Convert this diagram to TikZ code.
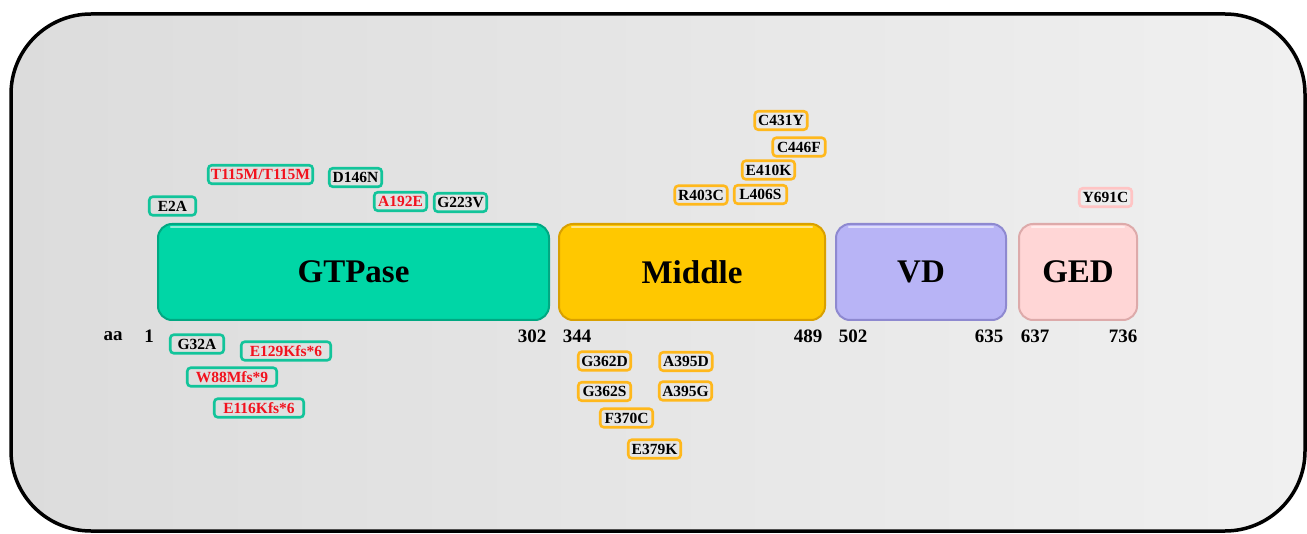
\documentclass[tikz,border=0pt]{standalone}
\usepackage{fontspec}
\setmainfont{Liberation Serif}
\usetikzlibrary{calc}
\definecolor{bgA}{HTML}{DCDCDC}
\definecolor{bgB}{HTML}{F0F0F0}
\definecolor{gtfill}{HTML}{00D6A6}
\definecolor{gtdark}{HTML}{00A882}
\definecolor{gtborder}{HTML}{12C49A}
\definecolor{mifill}{HTML}{FFC800}
\definecolor{midark}{HTML}{D9A000}
\definecolor{miborder}{HTML}{FFB81C}
\definecolor{vdfill}{HTML}{B8B4F6}
\definecolor{vddark}{HTML}{8E89D0}
\definecolor{gefill}{HTML}{FFD6D6}
\definecolor{gedark}{HTML}{DDAAAA}
\definecolor{geborder}{HTML}{FFC4C4}
\definecolor{mutred}{HTML}{F2121E}
\begin{document}
\begin{tikzpicture}[x=1pt,y=-1pt,
  lab/.style={draw, line width=2.6, rounded corners=3.5, inner xsep=0, inner ysep=0,
    minimum height=18.5, minimum width=52.5, font=\fontsize{15.5}{16}\selectfont\bfseries},
  gt/.style={lab, draw=gtborder},
  mi/.style={lab, draw=miborder},
  ge/.style={lab, draw=geborder},
  mut/.style={text=mutred},
  dom/.style={rounded corners=14, minimum height=96, line width=2, inner sep=0,
    font=\fontsize{33}{33}\selectfont\bfseries},
  num/.style={inner sep=0, font=\fontsize{19}{19}\selectfont\bfseries},
  hl/.style={draw=white, opacity=0.55, line width=2.2, line cap=round}
]
\useasboundingbox (0,0) rectangle (1307,534);
% frame
\shade[rounded corners=80, left color=bgA, right color=bgB] (11,14) rectangle (1305,531);
\draw[line width=3.5, rounded corners=80] (11,14) rectangle (1305,531);

% domains
\node[dom, fill=gtfill, draw=gtdark, minimum width=391] (gtp) at (353.5,272) {GTPase};
\node[dom, fill=mifill, draw=midark, minimum width=266] (mid) at (692,272) {Middle};
\node[dom, fill=vdfill, draw=vddark, minimum width=170] (vd) at (921,272) {VD};
\node[dom, fill=gefill, draw=gedark, minimum width=118] (ged) at (1078,272) {GED};
\foreach \d in {gtp,mid,vd,ged}{
  \draw[hl] ($(\d.north west)+(14,4)$) -- ($(\d.north east)+(-14,4)$);
}

% numbers
\node[num] (aa) at (113,336) {aa};
\node[num] (n1) at (149,336) {1};
\node[num] (n302) at (532,336) {302};
\node[num] (n344) at (577,336) {344};
\node[num] (n489) at (808,336) {489};
\node[num] (n502) at (853,336) {502};
\node[num] (n635) at (989,336) {635};
\node[num] (n637) at (1035,336) {637};
\node[num] (n736) at (1123,336) {736};

% GTPase mutations (top)
\node[gt, minimum width=46.5] (e2a) at (172.5,206) {E2A};
\node[gt, mut, minimum width=104.5] (t115m) at (260.5,174.5) {T115M/T115M};
\node[gt] (d146n) at (355.5,177.5) {D146N};
\node[gt, mut] (a192e) at (400.5,201.5) {A192E};
\node[gt] (g223v) at (460.5,202.5) {G223V};

% GTPase mutations (bottom)
\node[gt, minimum width=53.5] (g32a) at (197,344) {G32A};
\node[gt, mut, minimum width=89.5] (e129k) at (286,351) {E129Kfs*6};
\node[gt, mut, minimum width=89.5] (w88m) at (232,377) {W88Mfs*9};
\node[gt, mut, minimum width=89.5] (e116k) at (259,408) {E116Kfs*6};

% Middle mutations (top)
\node[mi] (c431y) at (781,120.5) {C431Y};
\node[mi] (c446f) at (799,147) {C446F};
\node[mi] (e410k) at (768.5,170) {E410K};
\node[mi] (r403c) at (701,195) {R403C};
\node[mi] (l406s) at (760.5,194.5) {L406S};

% Middle mutations (bottom)
\node[mi] (g362d) at (604.5,361) {G362D};
\node[mi] (a395d) at (686,361.5) {A395D};
\node[mi] (g362s) at (604.5,391.5) {G362S};
\node[mi] (a395g) at (685.5,391) {A395G};
\node[mi] (f370c) at (626.5,418) {F370C};
\node[mi] (e379k) at (654.5,449) {E379K};

% GED mutation
\node[ge] (y691c) at (1105.5,197.5) {Y691C};
\end{tikzpicture}
\end{document}
